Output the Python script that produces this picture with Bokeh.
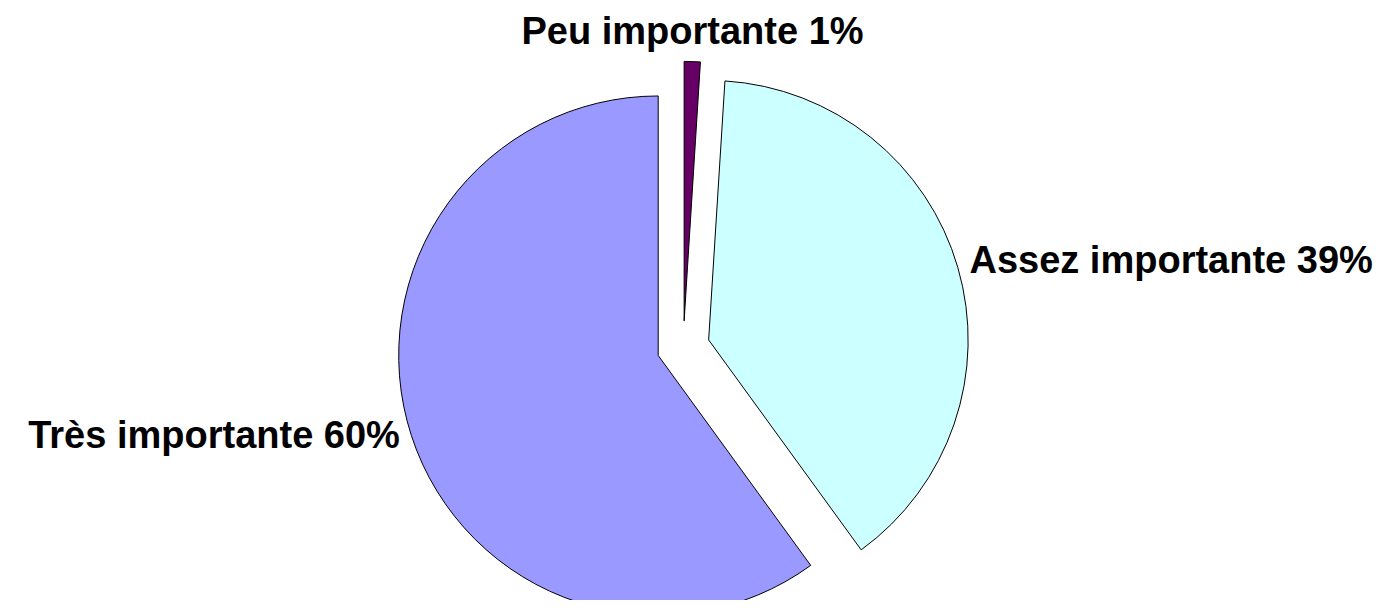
import math
from bokeh.plotting import figure
from bokeh.models import Range1d, ColumnDataSource
from bokeh.core.properties import value
from bokeh.embed import file_html
from bokeh.resources import INLINE

# Data
labels = ["Peu importante", "Assez importante", "Très importante"]
percents = [1, 39, 60]
colors = ["#660066", "#CCFFFF", "#9999FF"]

# Layout constants
RADIUS = 259.5
EXPLODE = 26.4
LABEL_R = 298
TOP_LABEL_R = 295

total = float(sum(percents))
xs, ys, starts, ends = [], [], [], []
lx, ly, lalign, lbase, ltext, lyoff = [], [], [], [], [], []
cum = 0.0
for lab, pct in zip(labels, percents):
    t1 = cum / total * 2 * math.pi          # clockwise from top
    cum += pct
    t2 = cum / total * 2 * math.pi
    mid = (t1 + t2) / 2
    dx, dy = math.sin(mid), math.cos(mid)
    xs.append(EXPLODE * dx)
    ys.append(EXPLODE * dy)
    starts.append(math.pi / 2 - t2)
    ends.append(math.pi / 2 - t1)
    if abs(dx) < 0.3:
        lx.append(TOP_LABEL_R * dx)
        ly.append(TOP_LABEL_R * dy)
        lalign.append("center")
        lbase.append("bottom")
        lyoff.append(0)
    else:
        lx.append(LABEL_R * dx)
        ly.append(LABEL_R * dy)
        lalign.append("left" if dx > 0 else "right")
        lbase.append("middle")
        lyoff.append(-4)
    ltext.append(f"{lab} {pct}%")

src = ColumnDataSource(dict(x=xs, y=ys, start=starts, end=ends, color=colors))
lsrc = ColumnDataSource(dict(x=lx, y=ly, text=ltext, align=lalign, base=lbase, yoff=lyoff))

W, H = 1373, 600
p = figure(width=W, height=H, output_backend="svg", toolbar_location=None,
           x_range=Range1d(-682.8, 690.2), y_range=Range1d(-253.2, 346.8),
           min_border=0)
p.axis.visible = False
p.grid.visible = False
p.outline_line_color = None
p.background_fill_color = "white"
p.border_fill_color = "white"

p.wedge(x="x", y="y", radius=RADIUS, start_angle="start", end_angle="end",
        fill_color="color", line_color="black", line_width=1, source=src)

p.text(x="x", y="y", text="text", text_align="align", text_baseline="base",
       y_offset="yoff",
       text_font=value("Liberation Sans"), text_font_style="bold",
       text_font_size="38px", text_color="black", source=lsrc)

open("out.html", "w").write(file_html(p, INLINE))
